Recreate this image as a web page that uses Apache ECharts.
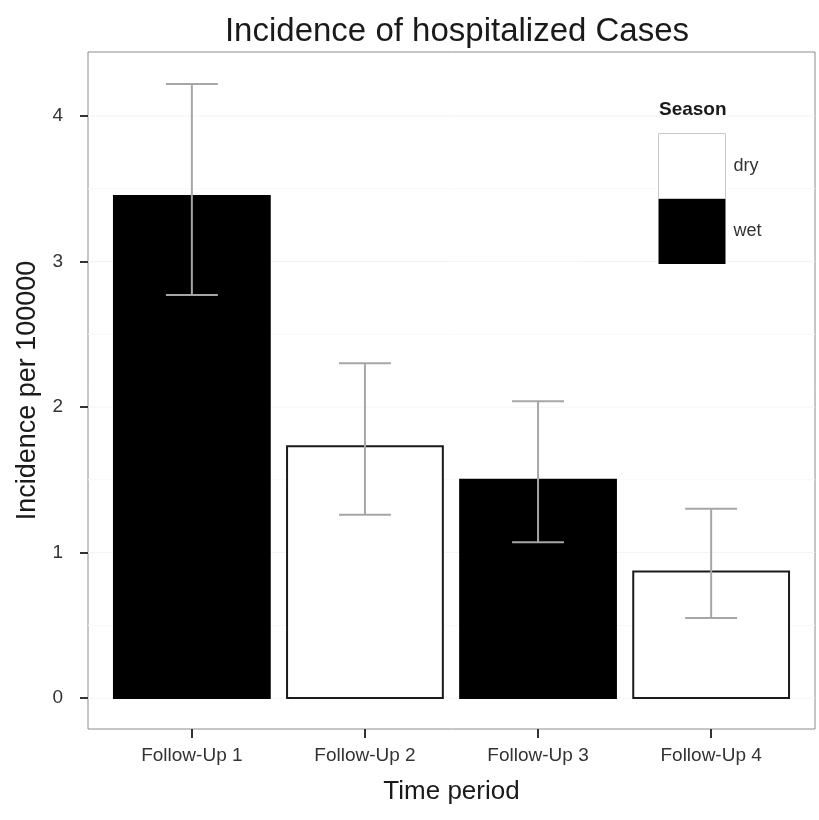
<!DOCTYPE html>
<html>
<head>
<meta charset="utf-8">
<script src="https://cdn.jsdelivr.net/npm/echarts@6/dist/echarts.min.js"></script>
<style>html,body{margin:0;padding:0;background:#fff}#c{width:819px;height:820px}</style>
</head>
<body>
<div id="c"></div>
<script>
const categories = ['Follow-Up 1', 'Follow-Up 2', 'Follow-Up 3', 'Follow-Up 4'];
const seasons = ['wet', 'dry', 'wet', 'dry'];
const incidence = [3.45, 1.73, 1.50, 0.87];
const lower = [2.77, 1.26, 1.07, 0.55];
const upper = [4.22, 2.30, 2.04, 1.30];
const yTicks = [0, 1, 2, 3, 4];
const yGrid = [0, 0.5, 1, 1.5, 2, 2.5, 3, 3.5, 4];

const FONT = '"Liberation Sans", Arial, sans-serif';
const chart = echarts.init(document.getElementById('c'));

function barData(season) {
  const out = [];
  categories.forEach((c, i) => { if (seasons[i] === season) out.push([i + 1, incidence[i]]); });
  return out;
}
function barRender(fill, stroke) {
  return function (params, api) {
    const x = api.value(0), v = api.value(1);
    const p1 = api.coord([x - 0.45, v]);
    const p2 = api.coord([x + 0.45, 0]);
    return {
      type: 'rect',
      shape: { x: p1[0], y: p1[1], width: p2[0] - p1[0], height: p2[1] - p1[1] },
      style: { fill: fill, stroke: stroke, lineWidth: 2 }
    };
  };
}

chart.setOption({
  animation: false,
  backgroundColor: '#fff',
  title: {
    text: 'Incidence of hospitalized Cases',
    left: 452, top: 10, textAlign: 'center',
    textStyle: { fontFamily: FONT, fontSize: 33, fontWeight: 'normal', color: '#1a1a1a' }
  },
  grid: { left: 88, right: 4, top: 52, bottom: 91, show: true, borderColor: '#8c8c8c', borderWidth: 1, backgroundColor: '#fff' },
  legend: {
    orient: 'vertical', left: 658, top: 133, itemWidth: 67, itemHeight: 65, itemGap: 0, padding: 0,
    textStyle: { fontFamily: FONT, fontSize: 18, color: '#333', padding: [0, 0, 0, 3] },
    data: [
      { name: 'dry', icon: 'rect', itemStyle: { color: '#fff', borderColor: '#c8c8c8', borderWidth: 1 } },
      { name: 'wet', icon: 'rect', itemStyle: { color: '#000', borderColor: '#000', borderWidth: 0 } }
    ]
  },
  graphic: [{
    type: 'text', left: 659, top: 100,
    style: { text: 'Season', font: 'bold 19px ' + FONT, fill: '#1a1a1a' }
  }],
  xAxis: {
    type: 'value', min: 0.4, max: 4.6,
    name: 'Time period', nameLocation: 'middle', nameGap: 50,
    nameTextStyle: { fontFamily: FONT, fontSize: 26, color: '#1a1a1a' },
    axisLine: { show: false, onZero: false },
    axisTick: { show: true, length: 9, lineStyle: { color: '#333', width: 2 }, customValues: [1, 2, 3, 4] },
    axisLabel: {
      fontFamily: FONT, fontSize: 19, color: '#333', margin: 17,
      customValues: [1, 2, 3, 4],
      formatter: v => categories[Math.round(v) - 1]
    },
    splitLine: { show: false }
  },
  yAxis: {
    type: 'value', min: -0.213, max: 4.44,
    name: 'Incidence per 100000', nameLocation: 'middle', nameGap: 46, nameRotate: 90,
    nameTextStyle: { fontFamily: FONT, fontSize: 27, color: '#1a1a1a' },
    axisLine: { show: false, onZero: false },
    axisTick: { show: true, length: 8, lineStyle: { color: '#333', width: 2 }, customValues: yTicks },
    axisLabel: { fontFamily: FONT, fontSize: 19, color: '#333', margin: 25, customValues: yTicks },
    splitLine: { show: false }
  },
  series: [
    {
      name: 'grid', type: 'custom', silent: true, z: 1,
      data: yGrid.map(v => [v]),
      renderItem: function (params, api) {
        const v = api.value(0);
        const a = api.coord([0.4, v]), b = api.coord([4.6, v]);
        return { type: 'line', shape: { x1: a[0], y1: a[1], x2: b[0], y2: b[1] },
          style: { stroke: (v % 1 === 0) ? '#f4f4f4' : '#f8f8f8', lineWidth: 1 } };
      },
      encode: { x: -1, y: 0 }
    },
    { name: 'dry', type: 'custom', itemStyle: { color: '#fff', borderColor: '#1a1a1a' }, data: barData('dry'), renderItem: barRender('#fff', '#1a1a1a'), z: 2 },
    { name: 'wet', type: 'custom', itemStyle: { color: '#000' }, data: barData('wet'), renderItem: barRender('#000', '#000'), z: 2 },
    {
      name: 'error', type: 'custom', z: 3,
      data: categories.map((c, i) => [i + 1, lower[i], upper[i]]),
      renderItem: function (params, api) {
        const x = api.value(0), lo = api.value(1), hi = api.value(2);
        const pl = api.coord([x, lo]), ph = api.coord([x, hi]);
        const cl = api.coord([x - 0.15, lo]), cr = api.coord([x + 0.15, lo]);
        const hl = api.coord([x - 0.15, hi]), hr = api.coord([x + 0.15, hi]);
        const st = { stroke: '#a6a6a6', lineWidth: 2 };
        return { type: 'group', children: [
          { type: 'line', shape: { x1: pl[0], y1: pl[1], x2: ph[0], y2: ph[1] }, style: st },
          { type: 'line', shape: { x1: cl[0], y1: cl[1], x2: cr[0], y2: cr[1] }, style: st },
          { type: 'line', shape: { x1: hl[0], y1: hl[1], x2: hr[0], y2: hr[1] }, style: st }
        ] };
      }
    }
  ]
});
</script>
</body>
</html>
